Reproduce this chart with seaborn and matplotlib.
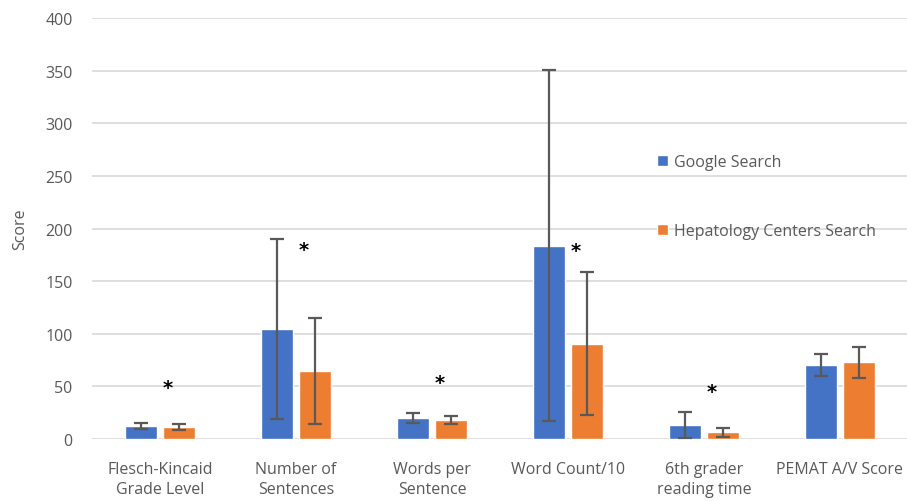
import matplotlib
matplotlib.use("Agg")
import matplotlib.pyplot as plt
import pandas as pd
import seaborn as sns

# Readability metrics
CATEGORIES = [
    "Flesch-Kincaid\nGrade Level",
    "Number of\nSentences",
    "Words per\nSentence",
    "Word Count/10",
    "6th grader\nreading time",
    "PEMAT A/V Score",
]
SERIES = ["Google Search", "Hepatology Centers Search"]

google_mean = [12.4, 104.5, 19.6, 183.7, 13.3, 70.3]
google_sd = [3.2, 85.5, 4.7, 167.0, 12.0, 10.6]
hepat_mean = [11.4, 64.3, 18.0, 90.6, 6.3, 72.8]
hepat_sd = [2.8, 50.5, 3.5, 68.0, 4.5, 14.5]

# significance markers: category index and height of the asterisk
star_cats = [0, 1, 2, 3, 4]
star_y = [49, 180, 54, 179, 45]

COLORS = ["#4472C4", "#ED7D31"]
TEXT = "#595959"

df = pd.DataFrame({
    "category": CATEGORIES * 2,
    "series": [SERIES[0]] * len(CATEGORIES) + [SERIES[1]] * len(CATEGORIES),
    "score": google_mean + hepat_mean,
    "sd": google_sd + hepat_sd,
})

sns.set_theme(style="white")
plt.rcParams["font.family"] = ["Open Sans", "DejaVu Sans"]

fig = plt.figure(figsize=(9.07, 5.02), dpi=100)
ax = fig.add_axes([92 / 907, 1 - 440 / 502, 816 / 907, 421 / 502])

sns.barplot(data=df, x="category", y="score", hue="series",
            palette=COLORS, width=0.56, gap=0.18, errorbar=None,
            saturation=1, ax=ax, zorder=2)

# error bars at each bar's centre
for bars, sds in zip(ax.containers, [google_sd, hepat_sd]):
    xs = [b.get_x() + b.get_width() / 2 for b in bars]
    ys = [b.get_height() for b in bars]
    ax.errorbar(xs, ys, yerr=sds, fmt="none", ecolor="#595959",
                elinewidth=1.6, capsize=5, capthick=1.6, zorder=3)

for c, y in zip(star_cats, star_y):
    ax.text(c + 0.06, y, "*", ha="center", va="center",
            fontsize=14, fontweight="bold", color="black",
            family="DejaVu Sans")

ax.set_ylim(0, 400)
ax.set_xlim(-0.5, 5.5)
ax.set_yticks(range(0, 401, 50))
ax.yaxis.grid(True, color="#D9D9D9", linewidth=1.2)
ax.set_axisbelow(True)
for side in ["top", "right", "left", "bottom"]:
    ax.spines[side].set_visible(False)

ax.set_xlabel("")
ax.set_ylabel("Score", color=TEXT, fontsize=11.5, labelpad=12)
ax.tick_params(axis="both", length=0, colors=TEXT, labelsize=11.5)
ax.tick_params(axis="x", pad=16)
ax.tick_params(axis="y", pad=14)
for lbl in ax.get_xticklabels():
    lbl.set_linespacing(1.3)

leg = ax.legend(loc="upper left", bbox_to_anchor=(0.675, 0.71),
                frameon=False, fontsize=11.5, labelspacing=3.3,
                handlelength=0.7, handleheight=0.7, handletextpad=0.35,
                labelcolor=TEXT)

fig.savefig("out.png", dpi=100)
